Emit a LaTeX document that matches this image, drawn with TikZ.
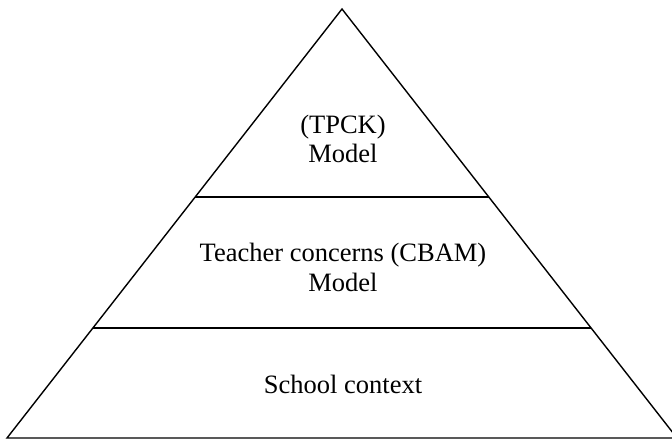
\documentclass[tikz,border=0pt]{standalone}
\usepackage{fontspec}
\setmainfont{Liberation Serif}
\usetikzlibrary{calc}
\begin{document}
\begin{tikzpicture}[x=1pt,y=-1pt,line width=1.4pt,line join=miter,
	level/.style={font=\fontsize{26.5}{30}\selectfont,anchor=base,inner sep=0pt}]
	%Khung hình
	\def\w{672}     \def\h{439}
	\useasboundingbox (0,0) rectangle (\w,\h);
	\clip (0,0) rectangle (\w,\h);
	%Các đỉnh của kim tự tháp
	\coordinate (top) at (342,9);
	\coordinate (bl) at (7,438);
	\coordinate (br) at (677,438);
	\draw (top)--(bl)--(br)--cycle;
	%Các đường chia tầng
	\foreach \t/\n in {0.438/a,0.744/b}{
		\coordinate (\n1) at ($(top)!\t!(bl)$);
		\coordinate (\n2) at ($(top)!\t!(br)$);
		\draw (\n1)--(\n2);
	}
	%Chữ trong các tầng
	\foreach \y/\s/\n in {133/(TPCK)/tpck,162/Model/tpckm,261/Teacher concerns (CBAM)/cbam,291/Model/cbamm,393/School context/school}
	\node[level] (\n) at (343,\y) {\s};
\end{tikzpicture}
\end{document}
